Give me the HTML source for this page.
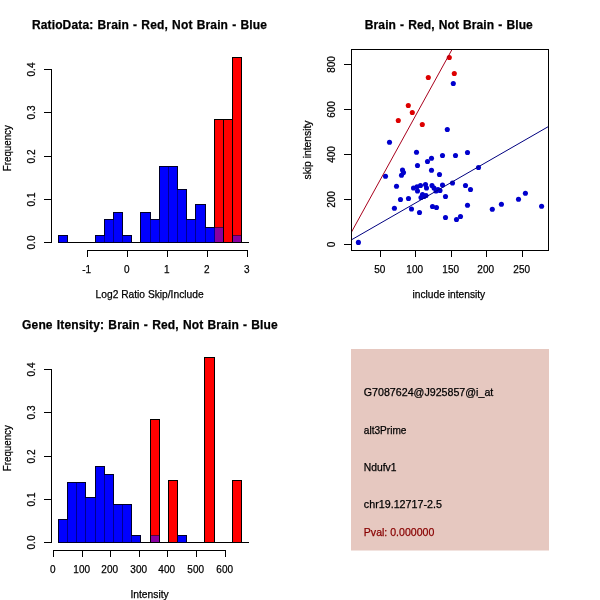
<!DOCTYPE html>
<html><head><meta charset="utf-8"><title>Plots</title>
<style>
html,body{margin:0;padding:0;background:#fff;}
svg{display:block}
text{font-family:"Liberation Sans",sans-serif;fill:#000;stroke:#000;stroke-width:0.25px}
.t{font-size:12px;font-weight:bold;text-anchor:middle;letter-spacing:0.15px;word-spacing:0.65px}
.l{font-size:11px;text-anchor:middle}
.s{font-size:11px;text-anchor:start}
.ln{stroke:#000;stroke-width:1;fill:none;shape-rendering:crispEdges}
.bb{fill:#0000ff;stroke:#000028;stroke-width:1;shape-rendering:crispEdges}
.rb{fill:#ff0000;stroke:#000;stroke-width:1;shape-rendering:crispEdges}
.pb{fill:#8800a0;stroke:#300050;stroke-width:1;shape-rendering:crispEdges}
.bp{fill:#0000cd}
.rp{fill:#dd0000}
</style></head><body>
<svg width="600" height="600" viewBox="0 0 600 600">
<rect x="0" y="0" width="600" height="600" fill="#ffffff"/>

<text class="t" x="149.5" y="29">RatioData: Brain - Red, Not Brain - Blue</text>
<rect class="rb" x="214.5" y="119.5" width="9" height="123"/>
<rect class="rb" x="223.5" y="119.5" width="9" height="123"/>
<rect class="rb" x="232.5" y="57.5" width="9" height="185"/>
<path class="ln" d="M58 242.5H249"/>
<rect class="bb" x="58.5" y="235.5" width="9" height="7"/>
<rect class="bb" x="95.5" y="235.5" width="9" height="7"/>
<rect class="bb" x="104.5" y="219.5" width="9" height="23"/>
<rect class="bb" x="113.5" y="212.5" width="9" height="30"/>
<rect class="bb" x="122.5" y="235.5" width="9" height="7"/>
<rect class="bb" x="140.5" y="212.5" width="10" height="30"/>
<rect class="bb" x="150.5" y="219.5" width="9" height="23"/>
<rect class="bb" x="159.5" y="166.5" width="9" height="76"/>
<rect class="bb" x="168.5" y="166.5" width="9" height="76"/>
<rect class="bb" x="177.5" y="189.5" width="9" height="53"/>
<rect class="bb" x="186.5" y="219.5" width="9" height="23"/>
<rect class="bb" x="195.5" y="204.5" width="10" height="38"/>
<rect class="bb" x="205.5" y="227.5" width="9" height="15"/>
<rect x="215" y="228" width="8" height="14" fill="#8a00a0" shape-rendering="crispEdges"/>
<path d="M215 227.5H223" stroke="#5a0038" stroke-width="1" fill="none" shape-rendering="crispEdges"/>
<rect x="233" y="236" width="8" height="6" fill="#8a00a0" shape-rendering="crispEdges"/>
<path d="M233 235.5H241" stroke="#5a0038" stroke-width="1" fill="none" shape-rendering="crispEdges"/>
<path d="M104.5 236V242" stroke="#000090" stroke-width="1" fill="none" shape-rendering="crispEdges"/>
<path d="M113.5 220V242" stroke="#000090" stroke-width="1" fill="none" shape-rendering="crispEdges"/>
<path d="M122.5 236V242" stroke="#000090" stroke-width="1" fill="none" shape-rendering="crispEdges"/>
<path d="M150.5 220V242" stroke="#000090" stroke-width="1" fill="none" shape-rendering="crispEdges"/>
<path d="M159.5 220V242" stroke="#000090" stroke-width="1" fill="none" shape-rendering="crispEdges"/>
<path d="M168.5 167V242" stroke="#000090" stroke-width="1" fill="none" shape-rendering="crispEdges"/>
<path d="M177.5 190V242" stroke="#000090" stroke-width="1" fill="none" shape-rendering="crispEdges"/>
<path d="M186.5 220V242" stroke="#000090" stroke-width="1" fill="none" shape-rendering="crispEdges"/>
<path d="M195.5 220V242" stroke="#000090" stroke-width="1" fill="none" shape-rendering="crispEdges"/>
<path d="M205.5 228V242" stroke="#000090" stroke-width="1" fill="none" shape-rendering="crispEdges"/>
<path d="M214.5 228V242" stroke="#000090" stroke-width="1" fill="none" shape-rendering="crispEdges"/>
<path class="ln" d="M51.5 69V243"/>
<path class="ln" d="M44 242.5H52"/>
<text class="l" textLength="13.9" lengthAdjust="spacingAndGlyphs" transform="translate(35,242.5) rotate(-90)">0.0</text>
<path class="ln" d="M44 199.5H52"/>
<text class="l" textLength="13.9" lengthAdjust="spacingAndGlyphs" transform="translate(35,199.5) rotate(-90)">0.1</text>
<path class="ln" d="M44 156.5H52"/>
<text class="l" textLength="13.9" lengthAdjust="spacingAndGlyphs" transform="translate(35,156.5) rotate(-90)">0.2</text>
<path class="ln" d="M44 112.5H52"/>
<text class="l" textLength="13.9" lengthAdjust="spacingAndGlyphs" transform="translate(35,112.5) rotate(-90)">0.3</text>
<path class="ln" d="M44 69.5H52"/>
<text class="l" textLength="13.9" lengthAdjust="spacingAndGlyphs" transform="translate(35,69.5) rotate(-90)">0.4</text>
<text class="l" textLength="46" lengthAdjust="spacingAndGlyphs" transform="translate(10.5,148.2) rotate(-90)">Frequency</text>
<path class="ln" d="M87 250.5H248"/>
<path class="ln" d="M87.5 250V257"/>
<text class="l" textLength="8.89" lengthAdjust="spacingAndGlyphs" x="86.7" y="272.6">-1</text>
<path class="ln" d="M127.5 250V257"/>
<text class="l" textLength="5.56" lengthAdjust="spacingAndGlyphs" x="126.7" y="272.6">0</text>
<path class="ln" d="M167.5 250V257"/>
<text class="l" textLength="5.56" lengthAdjust="spacingAndGlyphs" x="166.7" y="272.6">1</text>
<path class="ln" d="M207.5 250V257"/>
<text class="l" textLength="5.56" lengthAdjust="spacingAndGlyphs" x="206.7" y="272.6">2</text>
<path class="ln" d="M247.5 250V257"/>
<text class="l" textLength="5.56" lengthAdjust="spacingAndGlyphs" x="246.7" y="272.6">3</text>
<text class="l" textLength="108" lengthAdjust="spacingAndGlyphs" x="149.6" y="297.5">Log2 Ratio Skip/Include</text>
<text class="t" style="letter-spacing:0.095px" x="448.85" y="29">Brain - Red, Not Brain - Blue</text>
<clipPath id="c2"><rect x="352" y="50" width="196" height="200"/></clipPath>
<circle class="bp" cx="389.5" cy="142.3" r="2.55"/>
<circle class="bp" cx="416.5" cy="152.3" r="2.55"/>
<circle class="bp" cx="431.5" cy="158.3" r="2.55"/>
<circle class="bp" cx="427.5" cy="161.5" r="2.55"/>
<circle class="bp" cx="417.5" cy="165.5" r="2.55"/>
<circle class="bp" cx="431.5" cy="170.3" r="2.55"/>
<circle class="bp" cx="402.5" cy="170" r="2.55"/>
<circle class="bp" cx="403.5" cy="172.5" r="2.55"/>
<circle class="bp" cx="401.5" cy="175.3" r="2.55"/>
<circle class="bp" cx="385.5" cy="176.3" r="2.55"/>
<circle class="bp" cx="439.5" cy="174.5" r="2.55"/>
<circle class="bp" cx="396.5" cy="186.3" r="2.55"/>
<circle class="bp" cx="413.5" cy="188" r="2.55"/>
<circle class="bp" cx="417.5" cy="191" r="2.55"/>
<circle class="bp" cx="420.5" cy="185.5" r="2.55"/>
<circle class="bp" cx="425.5" cy="184.5" r="2.55"/>
<circle class="bp" cx="426.5" cy="188" r="2.55"/>
<circle class="bp" cx="432" cy="185.5" r="2.55"/>
<circle class="bp" cx="434" cy="188" r="2.55"/>
<circle class="bp" cx="436" cy="191" r="2.55"/>
<circle class="bp" cx="440" cy="190.5" r="2.55"/>
<circle class="bp" cx="442.5" cy="185" r="2.55"/>
<circle class="bp" cx="452.5" cy="183" r="2.55"/>
<circle class="bp" cx="422.5" cy="194.5" r="2.55"/>
<circle class="bp" cx="426" cy="195.5" r="2.55"/>
<circle class="bp" cx="421" cy="197.5" r="2.55"/>
<circle class="bp" cx="445.5" cy="196.5" r="2.55"/>
<circle class="bp" cx="408.5" cy="198.5" r="2.55"/>
<circle class="bp" cx="400.5" cy="199.5" r="2.55"/>
<circle class="bp" cx="432.5" cy="206.5" r="2.55"/>
<circle class="bp" cx="436.5" cy="207.5" r="2.55"/>
<circle class="bp" cx="411.5" cy="209" r="2.55"/>
<circle class="bp" cx="419.5" cy="212.5" r="2.55"/>
<circle class="bp" cx="445.5" cy="217.5" r="2.55"/>
<circle class="bp" cx="456.5" cy="219.5" r="2.55"/>
<circle class="bp" cx="460.5" cy="216.5" r="2.55"/>
<circle class="bp" cx="442.5" cy="155.5" r="2.55"/>
<circle class="bp" cx="455.5" cy="155.5" r="2.55"/>
<circle class="bp" cx="467.5" cy="152.5" r="2.55"/>
<circle class="bp" cx="478.5" cy="167.5" r="2.55"/>
<circle class="bp" cx="465.5" cy="185.5" r="2.55"/>
<circle class="bp" cx="470.5" cy="189.5" r="2.55"/>
<circle class="bp" cx="467.5" cy="205.2" r="2.55"/>
<circle class="bp" cx="492.3" cy="209.2" r="2.55"/>
<circle class="bp" cx="501.4" cy="204.3" r="2.55"/>
<circle class="bp" cx="518.5" cy="199.3" r="2.55"/>
<circle class="bp" cx="525.4" cy="193.3" r="2.55"/>
<circle class="bp" cx="541.6" cy="206.3" r="2.55"/>
<circle class="bp" cx="358.4" cy="242.4" r="2.55"/>
<circle class="bp" cx="394.4" cy="208.3" r="2.55"/>
<circle class="bp" cx="453.3" cy="83.5" r="2.55"/>
<circle class="bp" cx="447.3" cy="129.5" r="2.55"/>
<circle class="bp" cx="417" cy="186.8" r="2.55"/>
<circle class="bp" cx="424" cy="196.5" r="2.55"/>
<circle class="bp" cx="438" cy="189.5" r="2.55"/>
<circle class="rp" cx="449.3" cy="57.5" r="2.55"/>
<circle class="rp" cx="454.3" cy="73.5" r="2.55"/>
<circle class="rp" cx="428.3" cy="77.5" r="2.55"/>
<circle class="rp" cx="408.3" cy="105.5" r="2.55"/>
<circle class="rp" cx="412.3" cy="112.5" r="2.55"/>
<circle class="rp" cx="398.3" cy="120.5" r="2.55"/>
<circle class="rp" cx="422.3" cy="124.5" r="2.55"/>
<g clip-path="url(#c2)">
<path d="M351.5 232L452 49.5" stroke="#a8001c" stroke-width="1" fill="none"/>
<path d="M351.5 239.8L548.5 126.5" stroke="#000080" stroke-width="1" fill="none"/>
</g>
<rect class="ln" x="351.5" y="49.5" width="197" height="201"/>
<path class="ln" d="M344 244.5H352"/>
<text class="l" textLength="5.56" lengthAdjust="spacingAndGlyphs" transform="translate(335,244.5) rotate(-90)">0</text>
<path class="ln" d="M344 199.5H352"/>
<text class="l" textLength="16.68" lengthAdjust="spacingAndGlyphs" transform="translate(335,199.5) rotate(-90)">200</text>
<path class="ln" d="M344 154.5H352"/>
<text class="l" textLength="16.68" lengthAdjust="spacingAndGlyphs" transform="translate(335,154.5) rotate(-90)">400</text>
<path class="ln" d="M344 109.5H352"/>
<text class="l" textLength="16.68" lengthAdjust="spacingAndGlyphs" transform="translate(335,109.5) rotate(-90)">600</text>
<path class="ln" d="M344 64.5H352"/>
<text class="l" textLength="16.68" lengthAdjust="spacingAndGlyphs" transform="translate(335,64.5) rotate(-90)">800</text>
<text class="l" textLength="59" lengthAdjust="spacingAndGlyphs" transform="translate(310.5,150) rotate(-90)">skip intensity</text>
<path class="ln" d="M380.5 250V257"/>
<text class="l" textLength="11.12" lengthAdjust="spacingAndGlyphs" x="379.7" y="272.6">50</text>
<path class="ln" d="M415.5 250V257"/>
<text class="l" textLength="16.68" lengthAdjust="spacingAndGlyphs" x="414.7" y="272.6">100</text>
<path class="ln" d="M451.5 250V257"/>
<text class="l" textLength="16.68" lengthAdjust="spacingAndGlyphs" x="450.7" y="272.6">150</text>
<path class="ln" d="M486.5 250V257"/>
<text class="l" textLength="16.68" lengthAdjust="spacingAndGlyphs" x="485.7" y="272.6">200</text>
<path class="ln" d="M522.5 250V257"/>
<text class="l" textLength="16.68" lengthAdjust="spacingAndGlyphs" x="521.7" y="272.6">250</text>
<text class="l" textLength="72.8" lengthAdjust="spacingAndGlyphs" x="448.85" y="297.5">include intensity</text>
<text class="t" x="150" y="329">Gene Itensity: Brain - Red, Not Brain - Blue</text>
<rect class="rb" x="150.5" y="419.5" width="9" height="123"/>
<rect class="rb" x="168.5" y="480.5" width="9" height="62"/>
<rect class="rb" x="204.5" y="357.5" width="10" height="185"/>
<rect class="rb" x="232.5" y="480.5" width="9" height="62"/>
<path class="ln" d="M58 542.5H249"/>
<rect class="bb" x="58.5" y="519.5" width="9" height="23"/>
<rect class="bb" x="67.5" y="482.5" width="9" height="60"/>
<rect class="bb" x="76.5" y="482.5" width="9" height="60"/>
<rect class="bb" x="85.5" y="497.5" width="10" height="45"/>
<rect class="bb" x="95.5" y="466.5" width="9" height="76"/>
<rect class="bb" x="104.5" y="474.5" width="9" height="68"/>
<rect class="bb" x="113.5" y="504.5" width="9" height="38"/>
<rect class="bb" x="122.5" y="504.5" width="9" height="38"/>
<rect class="bb" x="131.5" y="535.5" width="9" height="7"/>
<rect x="151" y="536" width="8" height="6" fill="#8a00a0" shape-rendering="crispEdges"/>
<path d="M151 535.5H159" stroke="#5a0038" stroke-width="1" fill="none" shape-rendering="crispEdges"/>
<rect class="bb" x="177.5" y="535.5" width="9" height="7"/>
<path d="M67.5 520V542" stroke="#000090" stroke-width="1" fill="none" shape-rendering="crispEdges"/>
<path d="M76.5 483V542" stroke="#000090" stroke-width="1" fill="none" shape-rendering="crispEdges"/>
<path d="M85.5 498V542" stroke="#000090" stroke-width="1" fill="none" shape-rendering="crispEdges"/>
<path d="M95.5 498V542" stroke="#000090" stroke-width="1" fill="none" shape-rendering="crispEdges"/>
<path d="M104.5 475V542" stroke="#000090" stroke-width="1" fill="none" shape-rendering="crispEdges"/>
<path d="M113.5 505V542" stroke="#000090" stroke-width="1" fill="none" shape-rendering="crispEdges"/>
<path d="M122.5 505V542" stroke="#000090" stroke-width="1" fill="none" shape-rendering="crispEdges"/>
<path d="M131.5 536V542" stroke="#000090" stroke-width="1" fill="none" shape-rendering="crispEdges"/>
<path class="ln" d="M51.5 369V543"/>
<path class="ln" d="M44 542.5H52"/>
<text class="l" textLength="13.9" lengthAdjust="spacingAndGlyphs" transform="translate(35,542.5) rotate(-90)">0.0</text>
<path class="ln" d="M44 499.5H52"/>
<text class="l" textLength="13.9" lengthAdjust="spacingAndGlyphs" transform="translate(35,499.5) rotate(-90)">0.1</text>
<path class="ln" d="M44 456.5H52"/>
<text class="l" textLength="13.9" lengthAdjust="spacingAndGlyphs" transform="translate(35,456.5) rotate(-90)">0.2</text>
<path class="ln" d="M44 412.5H52"/>
<text class="l" textLength="13.9" lengthAdjust="spacingAndGlyphs" transform="translate(35,412.5) rotate(-90)">0.3</text>
<path class="ln" d="M44 369.5H52"/>
<text class="l" textLength="13.9" lengthAdjust="spacingAndGlyphs" transform="translate(35,369.5) rotate(-90)">0.4</text>
<text class="l" textLength="46" lengthAdjust="spacingAndGlyphs" transform="translate(10.5,448.2) rotate(-90)">Frequency</text>
<path class="ln" d="M53 550.5H226"/>
<path class="ln" d="M53.5 550V557"/>
<text class="l" textLength="5.56" lengthAdjust="spacingAndGlyphs" x="52.7" y="572.6">0</text>
<path class="ln" d="M82.5 550V557"/>
<text class="l" textLength="16.68" lengthAdjust="spacingAndGlyphs" x="81.7" y="572.6">100</text>
<path class="ln" d="M110.5 550V557"/>
<text class="l" textLength="16.68" lengthAdjust="spacingAndGlyphs" x="109.7" y="572.6">200</text>
<path class="ln" d="M139.5 550V557"/>
<text class="l" textLength="16.68" lengthAdjust="spacingAndGlyphs" x="138.7" y="572.6">300</text>
<path class="ln" d="M167.5 550V557"/>
<text class="l" textLength="16.68" lengthAdjust="spacingAndGlyphs" x="166.7" y="572.6">400</text>
<path class="ln" d="M196.5 550V557"/>
<text class="l" textLength="16.68" lengthAdjust="spacingAndGlyphs" x="195.7" y="572.6">500</text>
<path class="ln" d="M225.5 550V557"/>
<text class="l" textLength="16.68" lengthAdjust="spacingAndGlyphs" x="224.7" y="572.6">600</text>
<text class="l" textLength="38.3" lengthAdjust="spacingAndGlyphs" x="149.6" y="597.5">Intensity</text>
<rect x="351" y="349" width="198" height="201.5" fill="#e6c8c0"/>
<text class="s" textLength="129.5" lengthAdjust="spacingAndGlyphs" x="363.8" y="396">G7087624@J925857@i_at</text>
<text class="s" textLength="42.6" lengthAdjust="spacingAndGlyphs" x="363.8" y="434">alt3Prime</text>
<text class="s" textLength="32.6" lengthAdjust="spacingAndGlyphs" x="363.8" y="471">Ndufv1</text>
<text class="s" textLength="78.2" lengthAdjust="spacingAndGlyphs" x="363.8" y="508">chr19.12717-2.5</text>
<text class="s" textLength="70.5" lengthAdjust="spacingAndGlyphs" style="fill:#880000;stroke:#880000" x="363.8" y="536">Pval: 0.000000</text>
</svg></body></html>
